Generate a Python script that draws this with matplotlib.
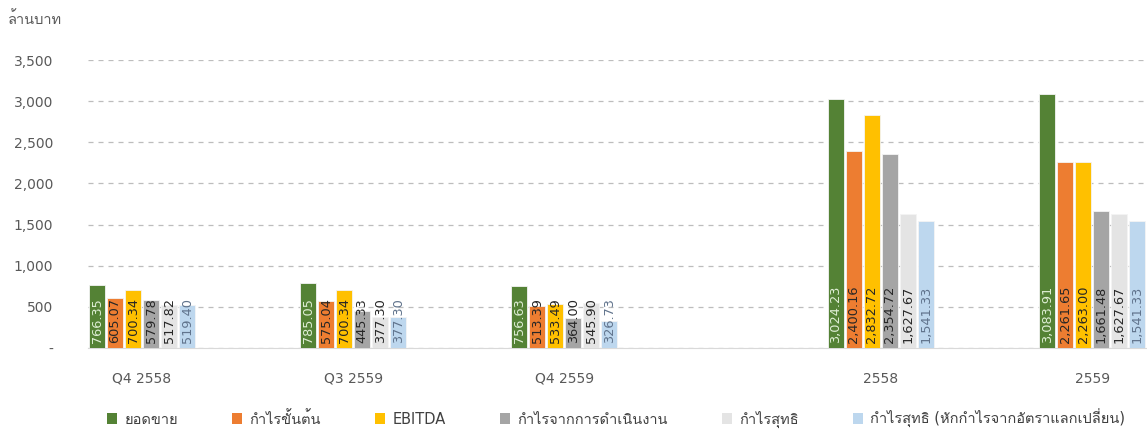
import matplotlib

matplotlib.use("Agg")

import matplotlib.pyplot as plt
from matplotlib import font_manager
from matplotlib.ft2font import FT2Font
from matplotlib.patches import Patch
import numpy as np


periods = ["Q4 2558", "Q3 2559", "Q4 2559", "2558", "2559"]
series_names = [
    "ยอดขาย",
    "กำไรขั้นต้น",
    "EBITDA",
    "กำไรจากการดำเนินงาน",
    "กำไรสุทธิ",
    "กำไรสุทธิ (หักกำไรจากอัตราแลกเปลี่ยน)",
]
sales = [766.35, 785.05, 756.63, 3024.23, 3083.91]
gross_profit = [605.07, 575.04, 513.39, 2400.16, 2261.65]
ebitda = [700.34, 700.34, 533.49, 2832.72, 2263.00]
operating_profit = [579.78, 445.33, 364.00, 2354.72, 1661.48]
net_profit = [517.82, 377.30, 545.90, 1627.67, 1627.67]
net_profit_ex_fx = [519.40, 377.30, 326.73, 1541.33, 1541.33]
y_ticks = [0, 500, 1000, 1500, 2000, 2500, 3000, 3500]

colors = ["#548235", "#ED7D31", "#FFC000", "#A5A5A5", "#E4E4E4", "#BDD7EE"]
label_colors = ["#dfeed5", "#262626", "#262626", "#262626", "#262626", "#60738c"]


def _thai_family():
    for entry in font_manager.fontManager.ttflist:
        try:
            if FT2Font(entry.fname).get_char_index(0x0E01):
                return entry.name
        except Exception:
            continue
    return None


thai = _thai_family()
plt.rcParams["font.family"] = ["DejaVu Sans", thai] if thai else ["DejaVu Sans"]

values = [sales, gross_profit, ebitda, operating_profit, net_profit, net_profit_ex_fx]
# groups 3 and 4 sit one and a half slots apart in the original layout
group_x = np.array([0, 1, 2, 3.5, 4.5])
step = 0.0853
width = 0.0758

fig = plt.figure(figsize=(11.47, 4.32), dpi=100)
ax = fig.add_axes([0.0767, 0.1944, 0.9233, 0.6667])

for i, (series, name) in enumerate(zip(values, series_names)):
    xs = group_x + (i - 2.5) * step
    ax.bar(xs, series, width=width, color=colors[i], edgecolor="#f4f4f4", linewidth=0.6, zorder=3)
    for x, v in zip(xs, series):
        ax.annotate(
            f"{v:,.2f}", (x, 0), xytext=(0, 3.5), textcoords="offset points",
            rotation=90, ha="center", va="bottom", fontsize=9.3,
            color=label_colors[i], zorder=4,
        )

ax.set_xlim(-0.256, 4.76)
ax.set_ylim(0, 3500)
ax.set_xticks(group_x, periods)
ax.set_yticks(y_ticks, [f"{t:,}" if t else "-" for t in y_ticks])
ax.tick_params(axis="both", length=0, colors="#595959", labelsize=10)
ax.tick_params(axis="y", pad=25)
ax.tick_params(axis="x", pad=17)
ax.yaxis.grid(True, linestyle=(0, (4, 4)), color="#bdbdbd", linewidth=0.9, zorder=0)
ax.xaxis.grid(False)
for side in ("top", "right", "left"):
    ax.spines[side].set_visible(False)
ax.spines["bottom"].set_color("#d9d9d9")

fig.text(0.007, 0.955, "ล้านบาท", fontsize=10.5, color="#595959", va="center", ha="left")

handles = [Patch(facecolor=c, edgecolor="none") for c in colors]
fig.legend(
    handles, series_names, loc="center", bbox_to_anchor=(0.537, 0.032), ncol=6,
    frameon=False, fontsize=10.5, handlelength=0.7, handleheight=0.7,
    handletextpad=0.5, columnspacing=3.7, labelcolor="#404040",
)

fig.savefig("out.png", dpi=100)
